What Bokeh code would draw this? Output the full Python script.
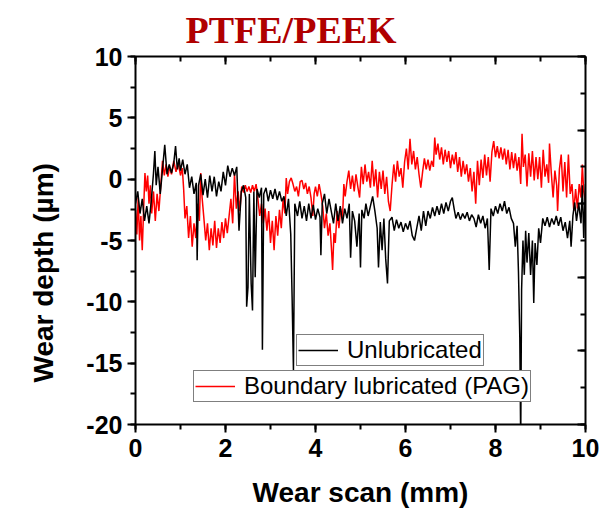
from bokeh.plotting import figure
from bokeh.models import (Range1d, LinearAxis, SingleIntervalTicker, Legend, LegendItem,
                          PrintfTickFormatter, CustomJSTickFormatter, Title)
from bokeh.embed import file_html
from bokeh.resources import INLINE

# Wear profile across the scar, unlubricated test (scan position mm, depth um)
unlub_x = [0.00, 0.05, 0.10, 0.15, 0.20, 0.25, 0.30, 0.35, 0.40, 0.43, 0.46, 0.50, 0.55, 0.60, 0.65,
           0.70, 0.75, 0.80, 0.85, 0.89, 0.93, 0.97, 1.00, 1.05, 1.10, 1.15, 1.20, 1.25, 1.30, 1.35,
           1.37, 1.40, 1.45, 1.50, 1.55, 1.60, 1.65, 1.70, 1.75, 1.80, 1.85, 1.90, 1.95, 2.00, 2.05,
           2.10, 2.15, 2.20, 2.25, 2.30, 2.35, 2.40, 2.45, 2.47, 2.50, 2.53, 2.57, 2.60, 2.63, 2.66,
           2.70, 2.75, 2.80, 2.82, 2.85, 2.90, 2.95, 3.00, 3.05, 3.10, 3.15, 3.20, 3.25, 3.30, 3.35,
           3.40, 3.45, 3.48, 3.51, 3.54, 3.60, 3.65, 3.70, 3.75, 3.80, 3.85, 3.90, 3.95, 4.00, 4.05,
           4.10, 4.12, 4.15, 4.20, 4.25, 4.30, 4.35, 4.40, 4.45, 4.50, 4.55, 4.60, 4.65, 4.70, 4.75,
           4.78, 4.82, 4.87, 4.92, 4.97, 5.00, 5.03, 5.08, 5.12, 5.17, 5.22, 5.27, 5.32, 5.37, 5.40,
           5.44, 5.48, 5.52, 5.56, 5.60, 5.64, 5.70, 5.75, 5.80, 5.85, 5.90, 5.95, 6.00, 6.05, 6.10,
           6.15, 6.20, 6.25, 6.30, 6.35, 6.40, 6.45, 6.50, 6.55, 6.60, 6.65, 6.70, 6.75, 6.80, 6.85,
           6.90, 6.95, 7.00, 7.04, 7.08, 7.12, 7.17, 7.22, 7.27, 7.32, 7.37, 7.42, 7.47, 7.52, 7.57,
           7.62, 7.67, 7.72, 7.77, 7.82, 7.86, 7.90, 7.95, 8.00, 8.05, 8.10, 8.15, 8.20, 8.25, 8.30,
           8.35, 8.40, 8.44, 8.48, 8.51, 8.54, 8.56, 8.58, 8.61, 8.64, 8.67, 8.70, 8.74, 8.78, 8.82,
           8.85, 8.88, 8.92, 8.96, 9.00, 9.05, 9.10, 9.15, 9.20, 9.25, 9.30, 9.35, 9.40, 9.45, 9.50,
           9.55, 9.60, 9.65, 9.68, 9.72, 9.76, 9.80, 9.85, 9.90, 9.93, 9.96, 10.00]
unlub_depth = [-2.0, -1.0, -2.8, -1.6, -3.4, -2.2, -3.6, -1.8, 0.5, 2.3, -0.5, 1.0, -1.2, 0.8, 2.8,
               0.4, 1.2, 0.5, 1.3, 2.7, 0.8, 1.7, 0.7, 1.6, 0.4, 1.2, -0.7, 0.2, -1.2, -0.3,
               -6.6, -0.5, 0.4, -1.3, 0.0, -1.5, 0.3, -1.0, 0.2, -1.4, -0.2, -1.0, 0.6, -0.5, 1.1,
               0.2, 0.9, 0.3, 1.0, -4.2, -1.0, -0.5, -1.5, -10.4, -8.8, -1.2, -8.5, -10.7, -1.0, -8.0,
               -0.8, -1.5, -0.7, -13.9, -1.2, -0.7, -1.8, -0.9, -1.6, -0.8, -1.7, -1.0, -1.8, -1.4, -3.0,
               -1.6, -4.5, -9.6, -15.6, -2.0, -3.0, -1.8, -3.2, -2.2, -3.4, -2.0, -3.2, -2.1, -3.3, -2.4,
               -3.1, -6.2, -2.0, -1.2, -2.8, -1.6, -2.6, -3.6, -2.0, -3.4, -2.2, -3.6, -2.4, -3.2, -2.0,
               -6.4, -2.6, -3.4, -5.5, -2.8, -7.2, -2.5, -3.2, -2.0, -3.0, -2.2, -1.4, -2.6, -4.0, -7.2,
               -3.5, -5.8, -3.2, -6.5, -8.5, -3.4, -3.1, -4.2, -3.3, -4.0, -3.5, -4.3, -3.6, -4.1, -3.4,
               -4.6, -5.0, -4.0, -3.0, -4.2, -2.6, -3.8, -2.6, -3.2, -2.3, -3.0, -2.2, -2.9, -2.0, -2.8,
               -1.9, -2.6, -1.8, -1.5, -2.4, -3.2, -2.7, -3.3, -2.8, -3.2, -2.7, -3.4, -2.9, -3.2, -3.9,
               -2.9, -3.6, -3.0, -4.0, -3.2, -7.4, -2.4, -3.0, -2.2, -2.8, -2.0, -2.6, -1.8, -2.8, -2.3,
               -3.2, -3.6, -5.5, -3.8, -7.5, -12.9, -21.5, -9.0, -5.0, -7.8, -4.2, -6.8, -4.4, -7.8, -5.0,
               -10.1, -5.2, -7.0, -4.0, -5.2, -3.2, -3.8, -3.1, -3.9, -3.2, -3.7, -3.0, -3.8, -3.1, -4.2,
               -3.5, -4.8, -3.4, -5.5, -3.0, -1.9, -3.4, -2.0, -3.6, -0.5, -4.8, -0.4]

# Wear profile across the scar, boundary lubricated with PAG
pag_x = [0.00, 0.03, 0.06, 0.09, 0.12, 0.15, 0.18, 0.21, 0.24, 0.27, 0.30, 0.33, 0.36, 0.40, 0.44,
         0.48, 0.52, 0.56, 0.60, 0.64, 0.68, 0.72, 0.76, 0.80, 0.85, 0.90, 0.95, 1.00, 1.04, 1.07,
         1.10, 1.14, 1.18, 1.22, 1.26, 1.30, 1.34, 1.38, 1.42, 1.45, 1.48, 1.52, 1.56, 1.60, 1.64,
         1.68, 1.72, 1.76, 1.80, 1.84, 1.88, 1.92, 1.96, 2.00, 2.04, 2.08, 2.12, 2.16, 2.20, 2.24,
         2.28, 2.32, 2.36, 2.40, 2.44, 2.48, 2.52, 2.56, 2.60, 2.64, 2.68, 2.72, 2.76, 2.80, 2.84,
         2.88, 2.92, 2.96, 3.00, 3.04, 3.08, 3.12, 3.16, 3.20, 3.24, 3.28, 3.32, 3.35, 3.38, 3.42,
         3.46, 3.50, 3.54, 3.58, 3.62, 3.66, 3.70, 3.74, 3.78, 3.82, 3.86, 3.90, 3.94, 3.97, 4.00,
         4.04, 4.08, 4.12, 4.16, 4.20, 4.24, 4.28, 4.32, 4.36, 4.38, 4.41, 4.44, 4.48, 4.52, 4.56,
         4.60, 4.63, 4.66, 4.70, 4.74, 4.78, 4.82, 4.86, 4.90, 4.94, 4.98, 5.02, 5.06, 5.10, 5.14,
         5.18, 5.22, 5.26, 5.30, 5.34, 5.38, 5.42, 5.46, 5.50, 5.54, 5.58, 5.62, 5.66, 5.70, 5.74,
         5.78, 5.82, 5.86, 5.90, 5.94, 5.98, 6.02, 6.06, 6.10, 6.14, 6.18, 6.22, 6.26, 6.30, 6.34,
         6.38, 6.42, 6.46, 6.50, 6.54, 6.58, 6.62, 6.65, 6.68, 6.72, 6.76, 6.80, 6.84, 6.88, 6.92,
         6.96, 7.00, 7.04, 7.08, 7.12, 7.16, 7.20, 7.24, 7.28, 7.32, 7.36, 7.40, 7.44, 7.48, 7.52,
         7.56, 7.60, 7.64, 7.68, 7.72, 7.76, 7.80, 7.84, 7.88, 7.92, 7.96, 8.00, 8.04, 8.08, 8.12,
         8.16, 8.20, 8.24, 8.28, 8.32, 8.36, 8.40, 8.44, 8.48, 8.52, 8.56, 8.59, 8.62, 8.66, 8.70,
         8.74, 8.78, 8.82, 8.86, 8.90, 8.94, 8.98, 9.02, 9.06, 9.10, 9.14, 9.18, 9.20, 9.24, 9.28,
         9.32, 9.36, 9.38, 9.42, 9.46, 9.50, 9.54, 9.58, 9.62, 9.66, 9.70, 9.74, 9.78, 9.82, 9.86,
         9.90, 9.93, 9.96, 10.00]
pag_depth = [-2.5, -4.5, -1.5, -5.0, -3.0, -5.8, -2.5, 0.5, -1.0, 0.3, -2.0, -0.5, -2.8, -1.0, -3.4,
             -1.2, -2.6, -0.6, 1.5, 0.3, 1.2, 0.2, 1.0, 0.4, 1.5, 0.6, 1.3, 0.3, 0.9, -0.8,
             -3.2, -2.2, -4.8, -3.0, -5.5, -3.6, -4.8, -2.0, -3.4, 0.5, -1.5, -3.2, -5.0, -3.6, -5.8,
             -4.0, -5.4, -3.4, -5.6, -4.0, -5.2, -3.5, -4.8, -3.2, -4.4, -3.0, -1.6, -3.6, 0.4, -2.4,
             -1.0, -2.6, -0.6, -1.1, -0.5, -1.0, -0.6, -1.1, -0.5, -1.0, -0.4, -1.6, -3.0, -2.0, -3.6,
             -2.4, -4.2, -2.6, -5.2, -3.4, -5.8, -3.0, -4.6, -2.5, -4.0, -1.6, -2.8, 0.1, -1.2, -0.2,
             0.1, -0.4, -1.0, -0.6, -1.4, -0.2, -0.1, -0.8, -0.3, -1.2, -0.6, -1.5, -3.0, -1.2, -0.6,
             -1.4, -0.4, -1.2, -2.2, -4.0, -2.8, -4.6, -3.6, -6.0, -7.4, -4.4, -5.2, -2.6, -4.0, -2.4,
             -3.2, -0.4, -1.4, -0.2, 0.7, -0.8, 0.3, -1.0, 0.4, -0.6, -1.5, 1.0, -0.4, 1.2, -0.2,
             0.6, -0.7, 1.5, -0.6, 0.8, -1.5, 0.6, -0.8, 0.7, -1.2, 0.2, -1.8, -2.6, -0.5, 1.2,
             -0.2, 1.5, 0.2, 0.9, -0.7, 1.4, 2.5, 0.8, 3.3, 1.2, 2.3, 0.8, 1.8, 0.4, -0.7,
             0.6, 1.7, 0.8, 1.6, 0.7, 1.5, 1.0, 3.4, 2.0, 2.9, 1.6, 2.6, 1.2, 2.4, 1.4,
             2.3, 0.9, 2.0, 1.2, 2.2, 0.6, 1.8, 0.2, 1.5, 0.4, 1.2, -0.2, 0.9, -1.0, 0.6,
             -2.0, 1.5, -0.5, 1.6, 0.1, 2.0, 0.3, 1.8, -0.2, 2.2, 3.1, 1.8, 2.7, 1.7, 2.6,
             1.6, 2.5, 1.2, 2.4, 0.8, 2.2, 0.9, 2.1, 0.7, 1.8, -0.4, 3.7, 1.0, 2.0, -0.6,
             2.1, 0.2, 2.3, -0.1, 1.8, 0.0, 1.8, -0.7, 2.4, 0.2, 1.2, -0.3, 2.9, 0.5, -1.5,
             0.7, -0.5, -2.6, 0.8, 2.0, -1.0, 1.4, -1.5, 2.0, -1.2, -0.4, -2.6, -0.8, -2.4, -0.4,
             -1.5, 1.2, -1.0, -1.8]

series_labels = ["Unlubricated", "Boundary lubricated (PAG)"]
x_ticks_major = 2
y_ticks_major = 5

AXIS_FONT = "Liberation Sans"

p = figure(width=609, height=510, output_backend="svg", toolbar_location=None,
           x_range=Range1d(0, 10), y_range=Range1d(-20, 10),
           x_axis_label="Wear scan (mm)",
           min_border_left=135, min_border_right=24, min_border_top=55, min_border_bottom=85)

p.title.text = "PTFE/PEEK"
p.title.text_font = "Liberation Serif"
p.title.text_font_style = "bold"
p.title.text_font_size = "38px"
p.title.text_color = "#B00000"
p.title.align = "left"
p.title.offset = 50
p.title.standoff = 12

p.xgrid.visible = False
p.ygrid.visible = False
p.outline_line_color = None
p.background_fill_color = "white"
p.border_fill_color = "white"

red = p.line(pag_x, pag_depth, line_color="#FF0000", line_width=1.5)
black = p.line(unlub_x, unlub_depth, line_color="#000000", line_width=1.5)

# bottom and left axes: outward ticks with bold labels
xa = p.xaxis[0]
xa.ticker = SingleIntervalTicker(interval=x_ticks_major, num_minor_ticks=2)
ya = p.yaxis[0]
ya.ticker = SingleIntervalTicker(interval=y_ticks_major, num_minor_ticks=2)
for ax in (xa, ya):
    ax.formatter = PrintfTickFormatter(format="%d")
    ax.axis_line_width = 2
    ax.major_tick_line_width = 2
    ax.minor_tick_line_width = 2
    ax.major_tick_out = 8
    ax.major_tick_in = 0
    ax.minor_tick_out = 5
    ax.minor_tick_in = 0
    ax.major_label_text_font = AXIS_FONT
    ax.major_label_text_font_style = "bold"
    ax.major_label_text_font_size = "25px"
    ax.major_label_text_color = "black"
    ax.axis_label_text_font = AXIS_FONT
    ax.axis_label_text_font_style = "bold"
    ax.axis_label_text_font_size = "28px"
    ax.axis_label_text_color = "black"
xa.major_label_standoff = 6
xa.axis_label_standoff = 17
ya.major_label_standoff = 5

# y axis title, placed in the left panel beside the tick labels
ytitle = Title(text="Wear depth (\u00b5m)", align="left", offset=42, standoff=50,
               text_font=AXIS_FONT, text_font_style="bold",
               text_font_size="28px", text_color="black")
p.add_layout(ytitle, "left")

# mirror axes on top and right with inward ticks, no labels
p.extra_y_ranges = {"mirror": Range1d(0, 10)}
top = LinearAxis(ticker=SingleIntervalTicker(interval=x_ticks_major, num_minor_ticks=2))
right = LinearAxis(y_range_name="mirror",
                   ticker=SingleIntervalTicker(interval=2, num_minor_ticks=2))
for ax in (top, right):
    ax.formatter = CustomJSTickFormatter(code="return ''")
    ax.axis_line_width = 2
    ax.major_tick_line_width = 2
    ax.minor_tick_line_width = 2
    ax.major_tick_in = 8
    ax.major_tick_out = 0
    ax.minor_tick_in = 5
    ax.minor_tick_out = 0
    ax.major_label_standoff = 0
p.add_layout(top, "above")
p.add_layout(right, "right")

def make_legend(label, renderer, loc):
    lg = Legend(items=[LegendItem(label=label, renderers=[renderer])], location=loc)
    lg.border_line_color = "black"
    lg.border_line_width = 1.5
    lg.background_fill_color = "white"
    lg.background_fill_alpha = 1.0
    lg.label_text_font = AXIS_FONT
    lg.label_text_font_size = "24px"
    lg.label_text_color = "black"
    lg.glyph_width = 40
    lg.glyph_height = 20
    lg.label_standoff = 9
    lg.padding = 1
    lg.margin = 0
    lg.spacing = 0
    lg.label_height = 20
    return lg

p.add_layout(make_legend(series_labels[1], red, (58, 22)), "center")
p.add_layout(make_legend(series_labels[0], black, (161, 58)), "center")

open("out.html", "w").write(file_html(p, INLINE))
